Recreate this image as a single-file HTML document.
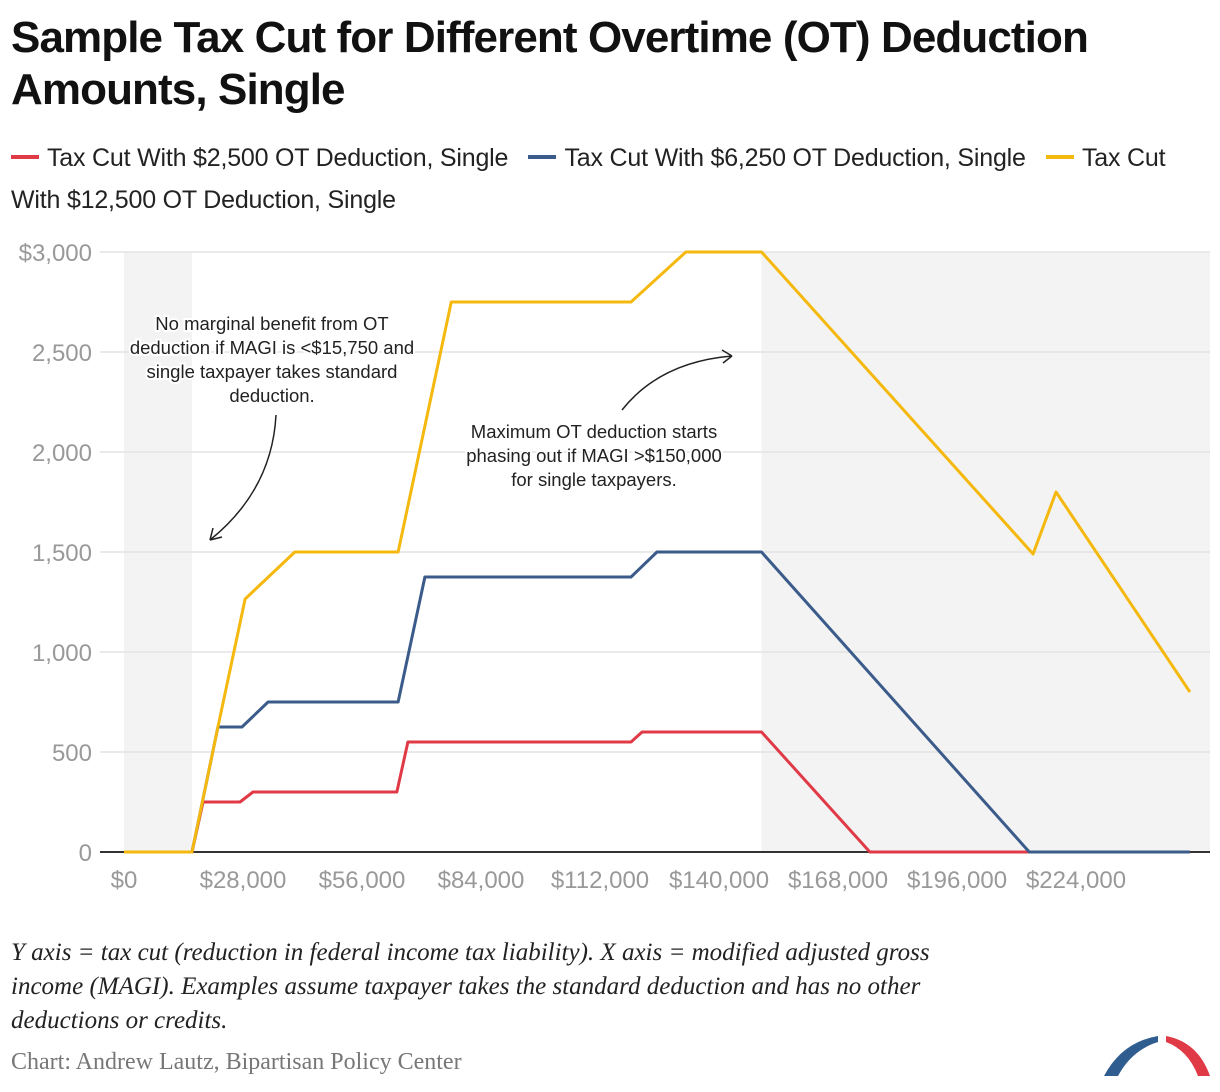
<!DOCTYPE html>
<html><head><meta charset="utf-8">
<style>
body{margin:0;background:#fff;width:1220px;height:1092px;overflow:hidden;font-family:"Liberation Sans",sans-serif;}
#title{position:absolute;left:11px;top:12px;font-size:44px;font-weight:bold;line-height:52px;letter-spacing:-0.9px;color:#111;}
#legend{position:absolute;left:11px;top:137px;width:1200px;font-size:25px;line-height:42px;color:#222;letter-spacing:-0.2px}
.sw{display:inline-block;width:28px;height:4px;vertical-align:middle;margin-right:8px;margin-top:-4px}
#note{position:absolute;left:11px;top:936px;width:990px;font-family:"Liberation Serif",serif;font-style:italic;font-size:25px;line-height:34px;color:#222}
#src{position:absolute;left:11px;top:1049px;font-family:"Liberation Serif",serif;font-size:24px;color:#777}
</style></head><body>
<div id="title">Sample Tax Cut for Different Overtime (OT) Deduction<br>Amounts, Single</div>
<div id="legend"><span><span class="sw" style="background:#e03a46"></span>Tax Cut With $2,500 OT Deduction, Single</span>&nbsp;&nbsp; <span><span class="sw" style="background:#3b5b8a"></span>Tax Cut With $6,250 OT Deduction, Single</span>&nbsp;&nbsp; <span><span class="sw" style="background:#f5b80e"></span>Tax Cut With $12,500 OT Deduction, Single</span></div>
<svg id="chart" width="1220" height="1092" style="position:absolute;left:0;top:0"></svg>
<div id="note">Y axis = tax cut (reduction in federal income tax liability). X axis = modified adjusted gross income (MAGI). Examples assume taxpayer takes the standard deduction and has no other deductions or credits.</div>
<div id="src">Chart: Andrew Lautz, Bipartisan Policy Center</div>
<script>
const xTicks=[0,28000,56000,84000,112000,140000,168000,196000,224000];
const yTicks=[0,500,1000,1500,2000,2500,3000];
const redX=[0,16000,18600,27300,30350,64200,66800,119300,121900,150000,175500,250800];
const redY=[0,0,250,250,300,300,550,550,600,600,0,0];
const blueX=[0,16000,22100,27760,33900,64500,70800,119300,125400,150000,213000,250800];
const blueY=[0,0,625,625,750,750,1375,1375,1500,1500,0,0];
const yelX=[0,16000,22100,28500,40200,64500,77000,119300,132200,150000,213900,219300,250800];
const yelY=[0,0,625,1265,1500,1500,2750,2750,3000,3000,1490,1800,800];
const shadeRanges=[[0,16000],[150000,261000]];
const X=v=>124+v*119/28000, Y=v=>852-v*0.2;
const svg=document.getElementById('chart');const NS='http://www.w3.org/2000/svg';
function mk(t,a,p){const e=document.createElementNS(NS,t);for(const k in a)e.setAttribute(k,a[k]);(p||svg).appendChild(e);return e;}
shadeRanges.forEach(r=>{const e=mk('rect',{x:X(r[0]),y:Y(3000),width:Math.min(X(r[1]),1210)-X(r[0]),height:Y(0)-Y(3000),fill:'#f3f3f3'});

});
yTicks.forEach(t=>{const l=mk('line',{x1:100,x2:1210,y1:Y(t),y2:Y(t),stroke:t?'#e3e3e3':'#333','stroke-width':t?1.5:2});


const tx=mk('text',{x:92,y:Y(t)+9,'text-anchor':'end','font-size':24,fill:'#999','font-family':'Liberation Sans'});tx.textContent=t===3000?'$3,000':t.toLocaleString('en-US');

});
xTicks.forEach(t=>{const tx=mk('text',{x:X(t),y:888,'text-anchor':'middle','font-size':24,fill:'#999','font-family':'Liberation Sans'});tx.textContent='$'+t.toLocaleString('en-US');

});
function line(xs,ys,c,n){const p=mk('polyline',{points:xs.map((x,i)=>X(x)+','+Y(ys[i])).join(' '),fill:'none',stroke:c,'stroke-width':3,'stroke-linejoin':'round'});

}
line(redX,redY,'#e03a46','line-2500');line(blueX,blueY,'#3b5b8a','line-6250');line(yelX,yelY,'#f5b80e','line-12500');
function txt(lines,x,y,n){const g=mk('g',{});
lines.forEach((s,i)=>{const t=mk('text',{x:x,y:y+i*24,'text-anchor':'middle','font-size':18.5,fill:'#222','font-family':'Liberation Sans',stroke:'#fff','stroke-width':4,'paint-order':'stroke'},g);t.textContent=s;});}
txt(['No marginal benefit from OT','deduction if MAGI is <$15,750 and','single taxpayer takes standard','deduction.'],272,330,'annotation-left');
txt(['Maximum OT deduction starts','phasing out if MAGI >$150,000','for single taxpayers.'],594,438,'annotation-right');
mk('path',{d:'M276 415 Q272 490 210 540',fill:'none',stroke:'#222','stroke-width':1.5});
mk('path',{d:'M210 540 l3 -12 M210 540 l12 -3',fill:'none',stroke:'#222','stroke-width':1.5});
mk('path',{d:'M622 410 Q660 362 732 356',fill:'none',stroke:'#222','stroke-width':1.5});
mk('path',{d:'M732 356 l-10 -6 M732 356 l-9 7',fill:'none',stroke:'#222','stroke-width':1.5});
const lg=mk('g',{});
mk('path',{d:'M1104 1076 Q1122 1042 1158 1036 L1158 1042 Q1132 1050 1118 1076 Z',fill:'#2f5d8f'},lg);
mk('path',{d:'M1166 1036 Q1198 1042 1210 1076 L1198 1076 Q1188 1050 1166 1042 Z',fill:'#e03a46'},lg);
</script>
</body></html>
